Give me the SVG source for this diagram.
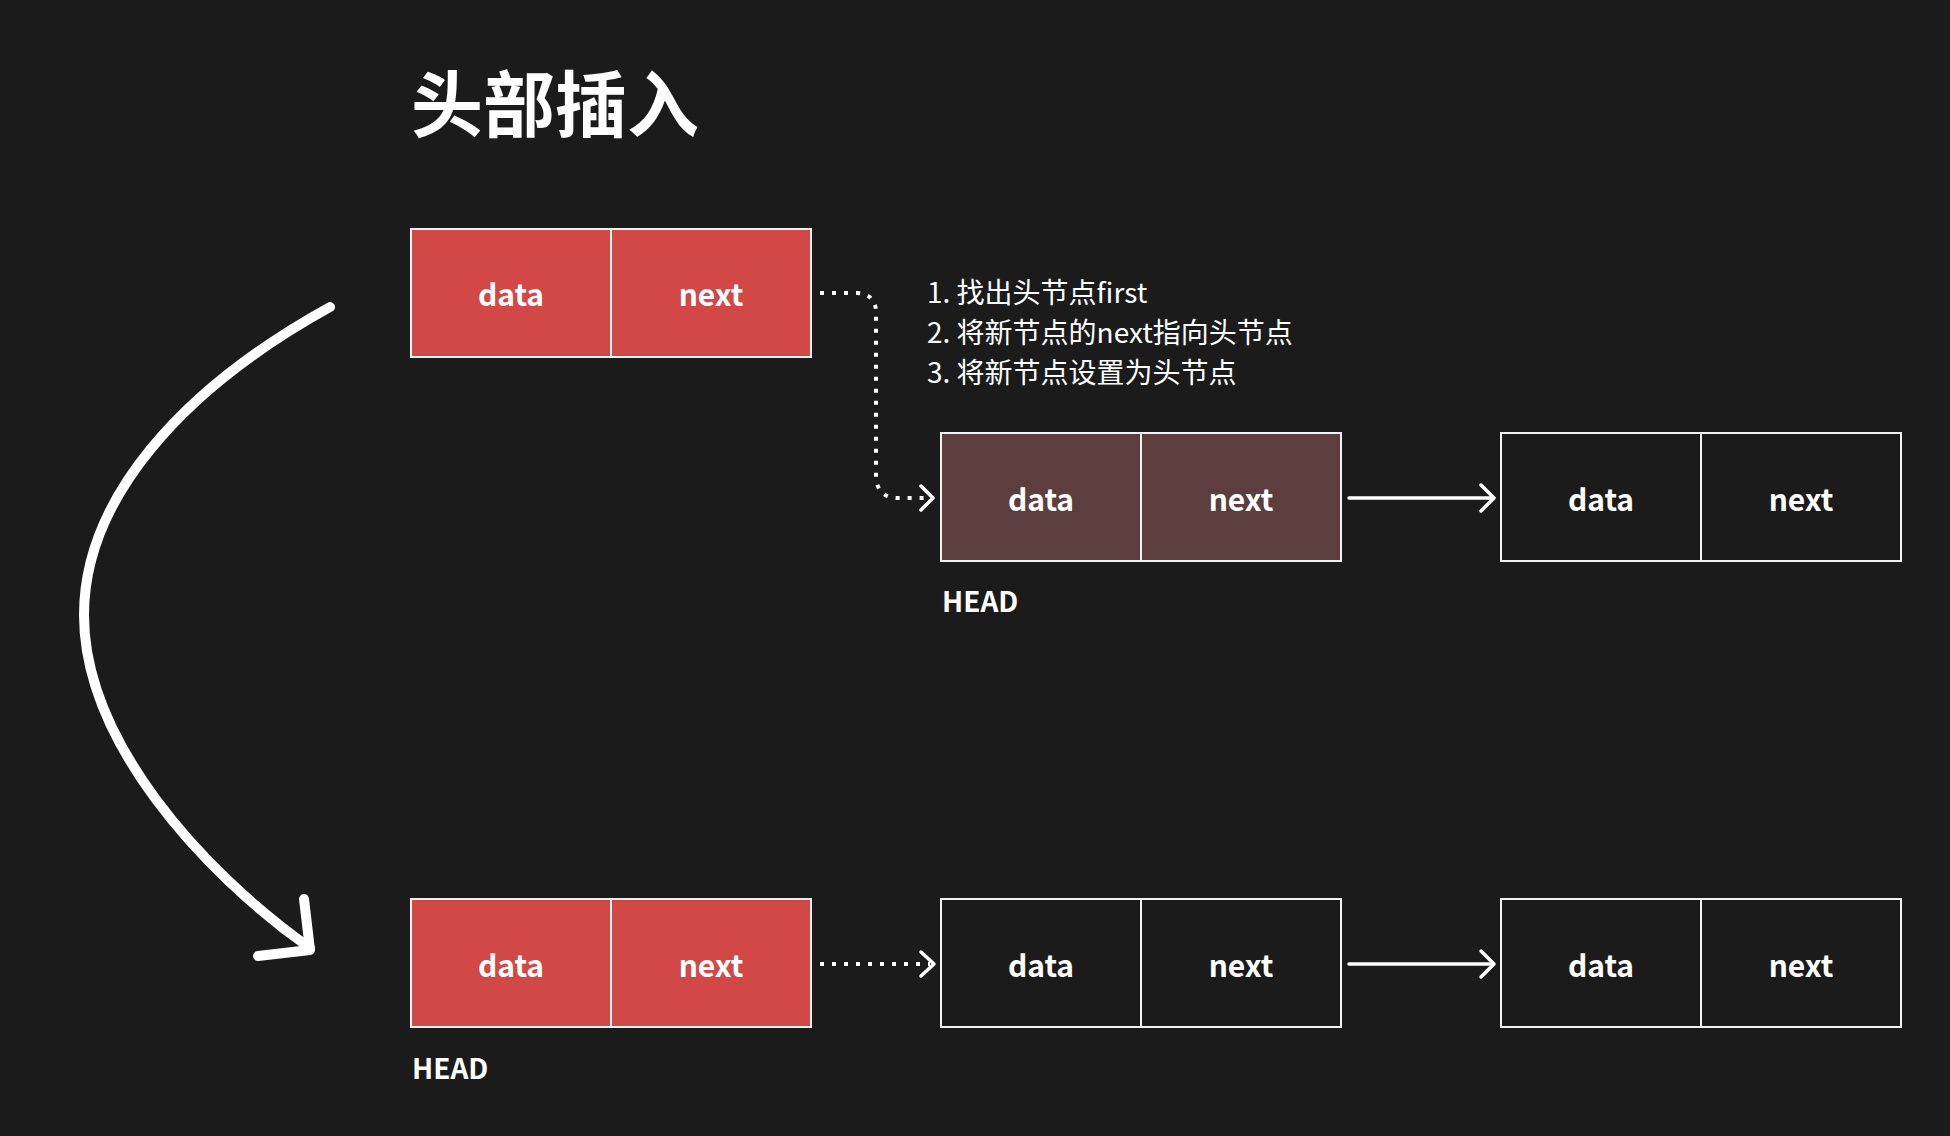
<svg xmlns="http://www.w3.org/2000/svg" width="1950" height="1136" viewBox="0 0 1950 1136">
  <defs>
    <style>
      .bg { fill: #1b1b1b; }
      .cell { stroke: #f2f2f2; stroke-width: 2; }
      .red { fill: #d14846; }
      .brown { fill: #5c3e3f; }
      .dark { fill: #1b1b1b; }
      .lbl { font-family: "Noto Sans CJK SC", "Noto Sans", sans-serif; font-weight: 700; font-size: 30px; fill: #ffffff; text-anchor: middle; }
      .head { font-family: "Noto Sans CJK SC", "Noto Sans", sans-serif; font-weight: 700; font-size: 28px; fill: #ffffff; }
      .title { font-family: "Noto Sans CJK SC", sans-serif; font-weight: 700; font-size: 72px; fill: #ffffff; }
      .step { font-family: "Noto Sans CJK SC", sans-serif; font-weight: 400; font-size: 28px; fill: #ffffff; }
      .dot { fill: none; stroke: #ffffff; stroke-width: 4; stroke-dasharray: 4 8; }
      .solid { fill: none; stroke: #ffffff; stroke-width: 3.5; stroke-linecap: round; }
      .head-arrow { fill: none; stroke: #ffffff; stroke-width: 3.5; stroke-linecap: round; stroke-linejoin: round; }
      .big { fill: none; stroke: #ffffff; stroke-width: 10; stroke-linecap: round; stroke-linejoin: round; }
    </style>
  </defs>
  <rect class="bg" x="0" y="0" width="1950" height="1136"/>

  <text class="title" x="411" y="131">头部插入</text>

  <g id="steps">
    <text class="step" x="927" y="303">1. 找出头节点first</text>
    <text class="step" x="927" y="343">2. 将新节点的next指向头节点</text>
    <text class="step" x="927" y="383">3. 将新节点设置为头节点</text>
  </g>

  <g id="node-new-top">
    <rect class="cell red" x="411" y="229" width="200" height="128"/>
    <rect class="cell red" x="611" y="229" width="200" height="128"/>
    <text class="lbl" x="511" y="306">data</text>
    <text class="lbl" x="711" y="306">next</text>
  </g>

  <g id="node-head-mid">
    <rect class="cell brown" x="941" y="433" width="200" height="128"/>
    <rect class="cell brown" x="1141" y="433" width="200" height="128"/>
    <text class="lbl" x="1041" y="511">data</text>
    <text class="lbl" x="1241" y="511">next</text>
    <text class="head" x="942" y="612">HEAD</text>
  </g>

  <g id="node-mid-2">
    <rect class="cell dark" x="1501" y="433" width="200" height="128"/>
    <rect class="cell dark" x="1701" y="433" width="200" height="128"/>
    <text class="lbl" x="1601" y="511">data</text>
    <text class="lbl" x="1801" y="511">next</text>
  </g>

  <g id="node-new-bottom">
    <rect class="cell red" x="411" y="899" width="200" height="128"/>
    <rect class="cell red" x="611" y="899" width="200" height="128"/>
    <text class="lbl" x="511" y="977">data</text>
    <text class="lbl" x="711" y="977">next</text>
    <text class="head" x="412" y="1079">HEAD</text>
  </g>

  <g id="node-bottom-2">
    <rect class="cell dark" x="941" y="899" width="200" height="128"/>
    <rect class="cell dark" x="1141" y="899" width="200" height="128"/>
    <text class="lbl" x="1041" y="977">data</text>
    <text class="lbl" x="1241" y="977">next</text>
  </g>

  <g id="node-bottom-3">
    <rect class="cell dark" x="1501" y="899" width="200" height="128"/>
    <rect class="cell dark" x="1701" y="899" width="200" height="128"/>
    <text class="lbl" x="1601" y="977">data</text>
    <text class="lbl" x="1801" y="977">next</text>
  </g>

  <g id="connectors">
    <path class="dot" d="M820,293 L858,293 Q876,295 876,312 L876,478 Q878,497 896,498 L930,498"/>
    <polyline class="head-arrow" points="921,486 933,498 921,510"/>

    <path class="solid" d="M1349,498 L1492,498"/>
    <polyline class="head-arrow" points="1481,485 1494,498 1481,511"/>

    <path class="dot" d="M820,964 L930,964"/>
    <polyline class="head-arrow" points="921,952 934,964 921,976"/>

    <path class="solid" d="M1349,964 L1492,964"/>
    <polyline class="head-arrow" points="1481,951 1494,964 1481,977"/>

    <path class="big" d="M330,307 C180,390 84,500 84,615 C84,740 200,870 310,948"/>
    <polyline class="big" points="304,899 310,950 258,956"/>
  </g>
</svg>
